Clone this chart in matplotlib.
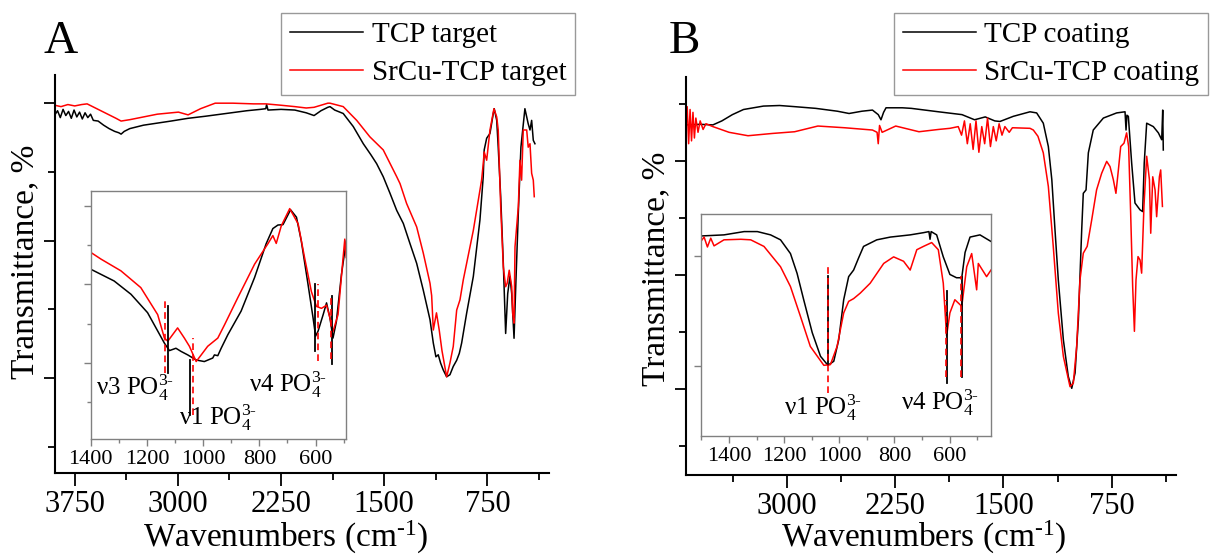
"""FTIR spectra of TCP and SrCu-TCP: targets (A) and coatings (B), with insets.
"""

import matplotlib
matplotlib.use("Agg")
import matplotlib.pyplot as plt  # type: ignore
from matplotlib.ticker import MultipleLocator, FixedLocator  # type: ignore

plt.rcParams["font.family"] = ["Liberation Serif", "DejaVu Serif"]
plt.rcParams["mathtext.fontset"] = "custom"
plt.rcParams["mathtext.rm"] = "Liberation Serif"
plt.rcParams["mathtext.it"] = "Liberation Serif:italic"
plt.rcParams["mathtext.default"] = "regular"

# ---- panel A, main spectra (wavenumber, transmittance a.u.) ----
a_tcp_wn = [3895, 3875, 3855, 3835, 3815, 3795, 3775, 3755, 3735, 3715,
            3695, 3675, 3655, 3635, 3615, 3580, 3540, 3500, 3460, 3430,
            3413, 3390, 3350, 3250, 3150, 3050, 2926, 2800, 2650, 2500,
            2400, 2361, 2355, 2345, 2250, 2150, 2067, 2010, 1960, 1910,
            1894, 1860, 1798, 1725, 1652, 1597, 1555, 1507, 1458, 1409,
            1361, 1313, 1264, 1216, 1167, 1143, 1124, 1107, 1090, 1071,
            1046, 1022, 998, 973, 954, 937, 901, 852, 804, 780,
            773, 755, 731, 707, 700, 682, 671, 653, 634, 617,
            602, 586, 573, 556, 542, 525, 506, 477, 453, 440,
            428, 416, 404]
a_tcp_t = [48.3, 48.9, 47.9, 49.1, 48.2, 48.8, 47.8, 49.0, 48.0, 48.7,
           47.7, 48.6, 47.9, 48.4, 47.5, 47.4, 46.8, 46.3, 45.9, 45.7,
           45.5, 45.9, 46.3, 46.8, 47.1, 47.4, 47.8, 48.1, 48.5, 48.9,
           49.1, 49.2, 49.8, 49.0, 49.1, 49.0, 48.6, 48.2, 48.9, 49.4,
           49.5, 49.0, 48.5, 46.6, 44.1, 42.5, 41.2, 39.3, 36.9, 34.4,
           32.5, 29.6, 26.7, 22.8, 18.5, 15.1, 13.1, 13.4, 12.2, 11.2,
           10.2, 10.5, 11.7, 12.6, 13.6, 15.1, 19.4, 24.8, 33.0, 39.3,
           43.2, 44.9, 45.6, 48.5, 49.2, 47.5, 43.6, 36.4, 26.7, 16.5,
           22.3, 24.8, 22.3, 15.8, 24.3, 34.0, 43.6, 49.2, 47.0, 46.1,
           47.5, 44.6, 44.1]

a_srcu_wn = [3895, 3850, 3800, 3750, 3700, 3660, 3620, 3560, 3500, 3450,
             3413, 3350, 3250, 3150, 2996, 2926, 2835, 2729, 2600, 2450,
             2361, 2250, 2150, 2067, 2010, 1960, 1910, 1894, 1798, 1700,
             1604, 1507, 1409, 1385, 1337, 1264, 1216, 1167, 1155, 1143,
             1120, 1100, 1080, 1046, 1022, 998, 973, 949, 925, 852,
             792, 780, 773, 755, 731, 702, 682, 671, 653, 634,
             617, 606, 591, 573, 566, 556, 549, 525, 513, 501,
             489, 464, 453, 440, 428, 416, 409]
a_srcu_t = [49.7, 49.5, 49.8, 49.6, 49.8, 49.9, 49.5, 48.9, 48.3, 47.8,
            47.4, 47.6, 48.0, 48.4, 48.7, 48.3, 49.2, 50.0, 50.0, 49.9,
            49.9, 49.7, 49.5, 49.3, 49.4, 49.7, 50.0, 50.0, 49.5, 47.5,
            45.1, 43.2, 39.3, 38.3, 35.4, 32.0, 28.2, 23.8, 22.0, 17.0,
            19.5, 17.0, 14.0, 10.2, 12.2, 14.6, 19.9, 21.4, 24.3, 31.5,
            38.8, 41.2, 42.9, 41.7, 46.1, 49.2, 48.0, 46.1, 34.9, 26.2,
            23.3, 23.8, 25.7, 23.3, 19.4, 18.0, 29.1, 34.9, 41.7, 38.8,
            46.1, 46.1, 43.6, 44.1, 39.8, 38.8, 36.4]

# ---- panel A, inset (1400-490 cm-1) ----
ia_tcp_wn = [1400, 1317, 1257, 1198, 1138, 1120, 1097, 1079, 1055, 1025,
             996, 966, 960, 948, 936, 912, 865, 817, 776, 752,
             734, 716, 689, 668, 651, 627, 609, 600, 591, 573,
             561, 549, 538, 526, 508, 491]
ia_tcp_t = [4.39, 4.09, 3.75, 3.28, 2.50, 2.31, 2.37, 2.29, 2.20, 2.07,
            2.03, 2.12, 2.20, 2.18, 2.37, 2.72, 3.32, 4.18, 5.04, 5.43,
            5.52, 5.53, 5.91, 5.72, 5.12, 4.01, 3.15, 2.68, 2.81, 3.23,
            3.53, 3.15, 2.63, 3.05, 4.25, 5.11]
ia_srcu_wn = [1400, 1364, 1293, 1222, 1162, 1138, 1126, 1091, 1067, 1049,
              1025, 1007, 984, 948, 924, 877, 817, 769, 752, 740,
              722, 692, 662, 639, 615, 597, 579, 561, 549, 538,
              520, 502, 496, 491]
ia_srcu_t = [4.82, 4.65, 4.35, 3.92, 3.23, 2.63, 2.55, 2.89, 2.63, 2.42,
             2.03, 2.20, 2.42, 2.63, 2.97, 3.66, 4.52, 5.05, 5.25, 5.05,
             5.50, 5.94, 5.55, 4.68, 3.82, 3.44, 3.39, 3.47, 3.15, 2.80,
             3.23, 4.69, 5.16, 4.69]

# band markers, inset A
ia_mark_k_wn = [1126, 1046, 603, 541]
ia_mark_k_lo = [1.73, 0.66, 2.29, 1.98]
ia_mark_k_hi = [3.45, 2.07, 4.01, 3.70]
ia_mark_r_wn = [1136, 1036, 591, 546]
ia_mark_r_lo = [1.73, 0.66, 2.05, 2.10]
ia_mark_r_hi = [3.66, 2.63, 4.01, 3.70]
ia_label_text = [r"ν3 PO$_4^{3\text{-}}$", r"ν1 PO$_4^{3\text{-}}$",
                 r"ν4 PO$_4^{3\text{-}}$"]
ia_label_wn = [1383, 1086, 838]
ia_label_t = [1.18, 0.41, 1.26]

# ---- panel B, main spectra ----
b_tcp_wn = [3701, 3600, 3512, 3450, 3377, 3300, 3162, 3050, 2946, 2800,
            2650, 2569, 2480, 2407, 2367, 2348, 2330, 2313, 2200, 2138,
            1950, 1787, 1700, 1626, 1560, 1524, 1432, 1316, 1270, 1224,
            1189, 1165, 1143, 1120, 1085, 1051, 1027, 1004, 981, 958,
            947, 928, 912, 878, 808, 716, 658, 651, 645, 635,
            612, 589, 554, 536, 525, 508, 462, 427, 404, 397,
            393]
b_tcp_t = [5.63, 5.64, 5.63, 5.70, 5.81, 5.90, 5.96, 5.97, 5.95, 5.92,
           5.87, 5.83, 5.87, 5.89, 5.81, 5.72, 5.85, 5.93, 5.93, 5.92,
           5.86, 5.81, 5.72, 5.77, 5.70, 5.69, 5.78, 5.86, 5.84, 5.66,
           5.25, 4.67, 3.79, 2.91, 1.86, 1.22, 1.01, 1.28, 2.21, 3.79,
           4.43, 4.49, 5.14, 5.54, 5.75, 5.84, 5.86, 5.54, 5.80, 5.78,
           4.96, 4.26, 4.14, 4.11, 4.96, 5.66, 5.60, 5.49, 5.37, 5.89,
           5.19]

b_srcu_wn = [3701, 3690, 3680, 3670, 3660, 3650, 3640, 3630, 3615, 3600,
             3580, 3560, 3512, 3400, 3269, 3100, 2946, 2785, 2600, 2407,
             2375, 2367, 2358, 2340, 2246, 2085, 1950, 1870, 1813, 1790,
             1770, 1750, 1730, 1710, 1690, 1670, 1650, 1630, 1610, 1590,
             1570, 1550, 1530, 1510, 1490, 1460, 1438, 1316, 1293, 1261,
             1224, 1189, 1155, 1120, 1085, 1039, 1016, 993, 970, 947,
             920, 889, 855, 820, 785, 762, 739, 721, 704, 688,
             665, 647, 633, 619, 605, 593, 582, 568, 554, 543,
             527, 508, 489, 480, 466, 450, 439, 420, 411, 399]
b_srcu_t = [5.60, 5.95, 5.30, 5.90, 5.35, 5.85, 5.40, 5.75, 5.50, 5.70,
            5.55, 5.65, 5.60, 5.50, 5.44, 5.48, 5.51, 5.61, 5.58, 5.54,
            5.50, 5.30, 5.62, 5.50, 5.61, 5.51, 5.55, 5.57, 5.60, 5.45,
            5.70, 5.30, 5.65, 5.20, 5.70, 5.15, 5.60, 5.30, 5.75, 5.25,
            5.60, 5.35, 5.65, 5.45, 5.60, 5.50, 5.58, 5.57, 5.54, 5.43,
            5.14, 4.55, 3.50, 2.33, 1.57, 1.04, 1.10, 1.74, 2.91, 3.38,
            3.50, 3.96, 4.49, 4.78, 4.99, 4.90, 4.67, 4.43, 4.84, 5.25,
            5.31, 5.49, 5.25, 4.08, 2.79, 2.01, 2.91, 3.32, 3.26, 3.03,
            4.20, 5.08, 4.67, 3.73, 4.72, 4.49, 4.02, 4.72, 4.84, 4.20]

# ---- panel B, inset (1500-450 cm-1) ----
ib_tcp_wn = [1502, 1418, 1345, 1297, 1249, 1213, 1177, 1153, 1129, 1098,
             1068, 1041, 1020, 1002, 984, 966, 948, 930, 912, 864,
             815, 743, 695, 675, 671, 667, 647, 623, 599, 575,
             556, 544, 526, 490, 450]
ib_tcp_t = [1.18, 1.19, 1.22, 1.22, 1.19, 1.145, 1.02, 0.84, 0.60, 0.30,
            0.085, 0.003, 0.04, 0.236, 0.60, 0.81, 0.87, 0.98, 1.085, 1.145,
            1.17, 1.19, 1.21, 1.22, 1.15, 1.22, 1.19, 0.99, 0.83, 0.80,
            0.80, 1.03, 1.17, 1.19, 1.13]
ib_srcu_wn = [1502, 1490, 1478, 1466, 1454, 1418, 1357, 1321, 1273, 1213,
              1177, 1141, 1105, 1056, 1032, 1008, 984, 966, 948, 924,
              888, 839, 803, 767, 743, 719, 695, 665, 641, 623,
              611, 599, 581, 556, 538, 520, 502, 496, 466, 450]
ib_srcu_t = [1.13, 1.17, 1.08, 1.16, 1.09, 1.145, 1.15, 1.145, 1.085, 0.90,
             0.72, 0.45, 0.175, 0.003, 0.01, 0.175, 0.48, 0.585, 0.61, 0.66,
             0.75, 0.93, 0.99, 0.95, 0.87, 1.055, 1.085, 1.12, 1.055, 0.75,
             0.27, 0.48, 0.60, 0.54, 0.90, 1.02, 0.69, 0.93, 0.81, 0.87]

ib_mark_k_wn = [1041, 611, 556]
ib_mark_k_lo = [0.003, -0.16, -0.10]
ib_mark_k_hi = [0.82, 0.675, 0.81]
ib_mark_r_wn = [1041, 614, 559]
ib_mark_r_lo = [-0.25, -0.10, -0.10]
ib_mark_r_hi = [0.93, 0.60, 0.82]
ib_label_text = [r"ν1 PO$_4^{3\text{-}}$", r"ν4 PO$_4^{3\text{-}}$"]
ib_label_wn = [1201, 776]
ib_label_t = [-0.45, -0.40]

W, H = 1213, 554


def px_box(x0: float, y0: float, x1: float, y1: float) -> list:
    """Pixel box (top-left origin) to figure fraction rect."""
    return [x0 / W, 1 - y1 / H, (x1 - x0) / W, (y1 - y0) / H]


def style_main(ax, xlim, ylim, ymajor, yminor) -> None:
    ax.set_xlim(*xlim)
    ax.set_ylim(*ylim)
    for side in ("top", "right"):
        ax.spines[side].set_visible(False)
    for side in ("left", "bottom"):
        ax.spines[side].set_linewidth(1.5)
    ax.xaxis.set_major_locator(MultipleLocator(750))
    ax.xaxis.set_minor_locator(MultipleLocator(375))
    ax.yaxis.set_major_locator(FixedLocator(ymajor))
    ax.yaxis.set_minor_locator(FixedLocator(yminor))
    ax.set_yticklabels([])
    ax.tick_params(axis="x", which="major", direction="out", length=9,
                   width=1.3, labelsize=22, pad=3)
    ax.tick_params(axis="x", which="minor", direction="out", length=5, width=1.3)
    ax.tick_params(axis="y", which="major", direction="out", length=8, width=1.3)
    ax.tick_params(axis="y", which="minor", direction="out", length=5, width=1.3)


def style_inset(ax, xlim, ylim, ymajor, yminor, major, minor) -> None:
    ax.set_xlim(*xlim)
    ax.set_ylim(*ylim)
    for sp in ax.spines.values():
        sp.set_color("#808080")
        sp.set_linewidth(1.0)
    ax.xaxis.set_major_locator(FixedLocator(major))
    ax.xaxis.set_minor_locator(FixedLocator(minor))
    ax.yaxis.set_major_locator(FixedLocator(ymajor))
    ax.yaxis.set_minor_locator(FixedLocator(yminor))
    ax.set_yticklabels([])
    ax.tick_params(axis="both", which="major", direction="out", length=5,
                   width=1.0, color="#808080", labelsize=16, pad=3)
    ax.tick_params(axis="both", which="minor", direction="out", length=3,
                   width=1.0, color="#808080")


def draw_marks(ax, k_wn, k_lo, k_hi, r_wn, r_lo, r_hi) -> None:
    for x, lo, hi in zip(k_wn, k_lo, k_hi):
        ax.plot([x, x], [lo, hi], color="black", lw=1.3)
    for x, lo, hi in zip(r_wn, r_lo, r_hi):
        ax.plot([x, x], [lo, hi], color="red", lw=1.2, ls=(0, (4, 2.5)))


def add_legend(ax, fig, handles, labels, right_px) -> None:
    leg = ax.legend(handles, labels, loc="upper right",
                    bbox_to_anchor=(right_px / W, 1 - 13 / H),
                    bbox_transform=fig.transFigure, fancybox=False,
                    edgecolor="#808080", fontsize=21, handlelength=2.5,
                    handletextpad=0.3, labelspacing=0.4, borderpad=0.3,
                    borderaxespad=0)
    leg.get_frame().set_linewidth(1.0)


def main() -> None:
    fig = plt.figure(figsize=(W / 100, H / 100), dpi=100)

    # panel A
    ax_a = fig.add_axes(px_box(54.8, 75, 548.7, 473))
    h1, = ax_a.plot(a_tcp_wn, a_tcp_t, color="black", lw=1.1)
    h2, = ax_a.plot(a_srcu_wn, a_srcu_t, color="red", lw=1.1)
    style_main(ax_a, (3895, 304), (-3.8, 54.1), [10, 30, 50], [0, 20, 40])
    add_legend(ax_a, fig, [h1, h2], ["TCP target", "SrCu-TCP target"], 575)

    in_a = fig.add_axes(px_box(90.8, 191, 346.2, 439))
    in_a.plot(ia_tcp_wn, ia_tcp_t, color="black", lw=1.1)
    in_a.plot(ia_srcu_wn, ia_srcu_t, color="red", lw=1.1)
    draw_marks(in_a, ia_mark_k_wn, ia_mark_k_lo, ia_mark_k_hi,
               ia_mark_r_wn, ia_mark_r_lo, ia_mark_r_hi)
    for txt, x, y in zip(ia_label_text, ia_label_wn, ia_label_t):
        in_a.text(x, y, txt, fontsize=18, ha="left", va="baseline")
    style_inset(in_a, (1400, 491), (0.05, 6.39), [2, 4, 6], [1, 3, 5],
                [1400, 1200, 1000, 800, 600], [1300, 1100, 900, 700, 500])

    # panel B
    ax_b = fig.add_axes(px_box(685.6, 77, 1176, 475))
    h3, = ax_b.plot(b_tcp_wn, b_tcp_t, color="black", lw=1.1)
    h4, = ax_b.plot(b_srcu_wn, b_srcu_t, color="red", lw=1.1)
    style_main(ax_b, (3701, 305), (-0.51, 6.47), [1, 3, 5], [0, 2, 4, 6])
    add_legend(ax_b, fig, [h3, h4], ["TCP coating", "SrCu-TCP coating"], 1208)

    in_b = fig.add_axes(px_box(700.8, 214, 991, 436))
    in_b.plot(ib_tcp_wn, ib_tcp_t, color="black", lw=1.1)
    in_b.plot(ib_srcu_wn, ib_srcu_t, color="red", lw=1.1)
    draw_marks(in_b, ib_mark_k_wn, ib_mark_k_lo, ib_mark_k_hi,
               ib_mark_r_wn, ib_mark_r_lo, ib_mark_r_hi)
    for txt, x, y in zip(ib_label_text, ib_label_wn, ib_label_t):
        in_b.text(x, y, txt, fontsize=18, ha="left", va="baseline")
    style_inset(in_b, (1502, 450), (-0.64, 1.38), [0, 1], [],
                [1400, 1200, 1000, 800, 600], [1500, 1300, 1100, 900, 700, 500])

    # labels
    fig.text(44 / W, 1 - 53 / H, "A", fontsize=34, va="baseline")
    fig.text(669 / W, 1 - 53 / H, "B", fontsize=34, va="baseline")
    fig.text(25 / W, 1 - 262 / H, "Transmittance, %", fontsize=24,
             rotation=90, ha="center", va="center")
    fig.text(656 / W, 1 - 269 / H, "Transmittance, %", fontsize=24,
             rotation=90, ha="center", va="center")
    xlabel = r"Wavenumbers (cm$^{\text{-}1}$)"
    fig.text(286 / W, 1 - 537 / H, xlabel, fontsize=24, ha="center", va="center")
    fig.text(924 / W, 1 - 537 / H, xlabel, fontsize=24, ha="center", va="center")

    fig.savefig("out.png", dpi=100)
    plt.close(fig)


if __name__ == "__main__":
    main()
